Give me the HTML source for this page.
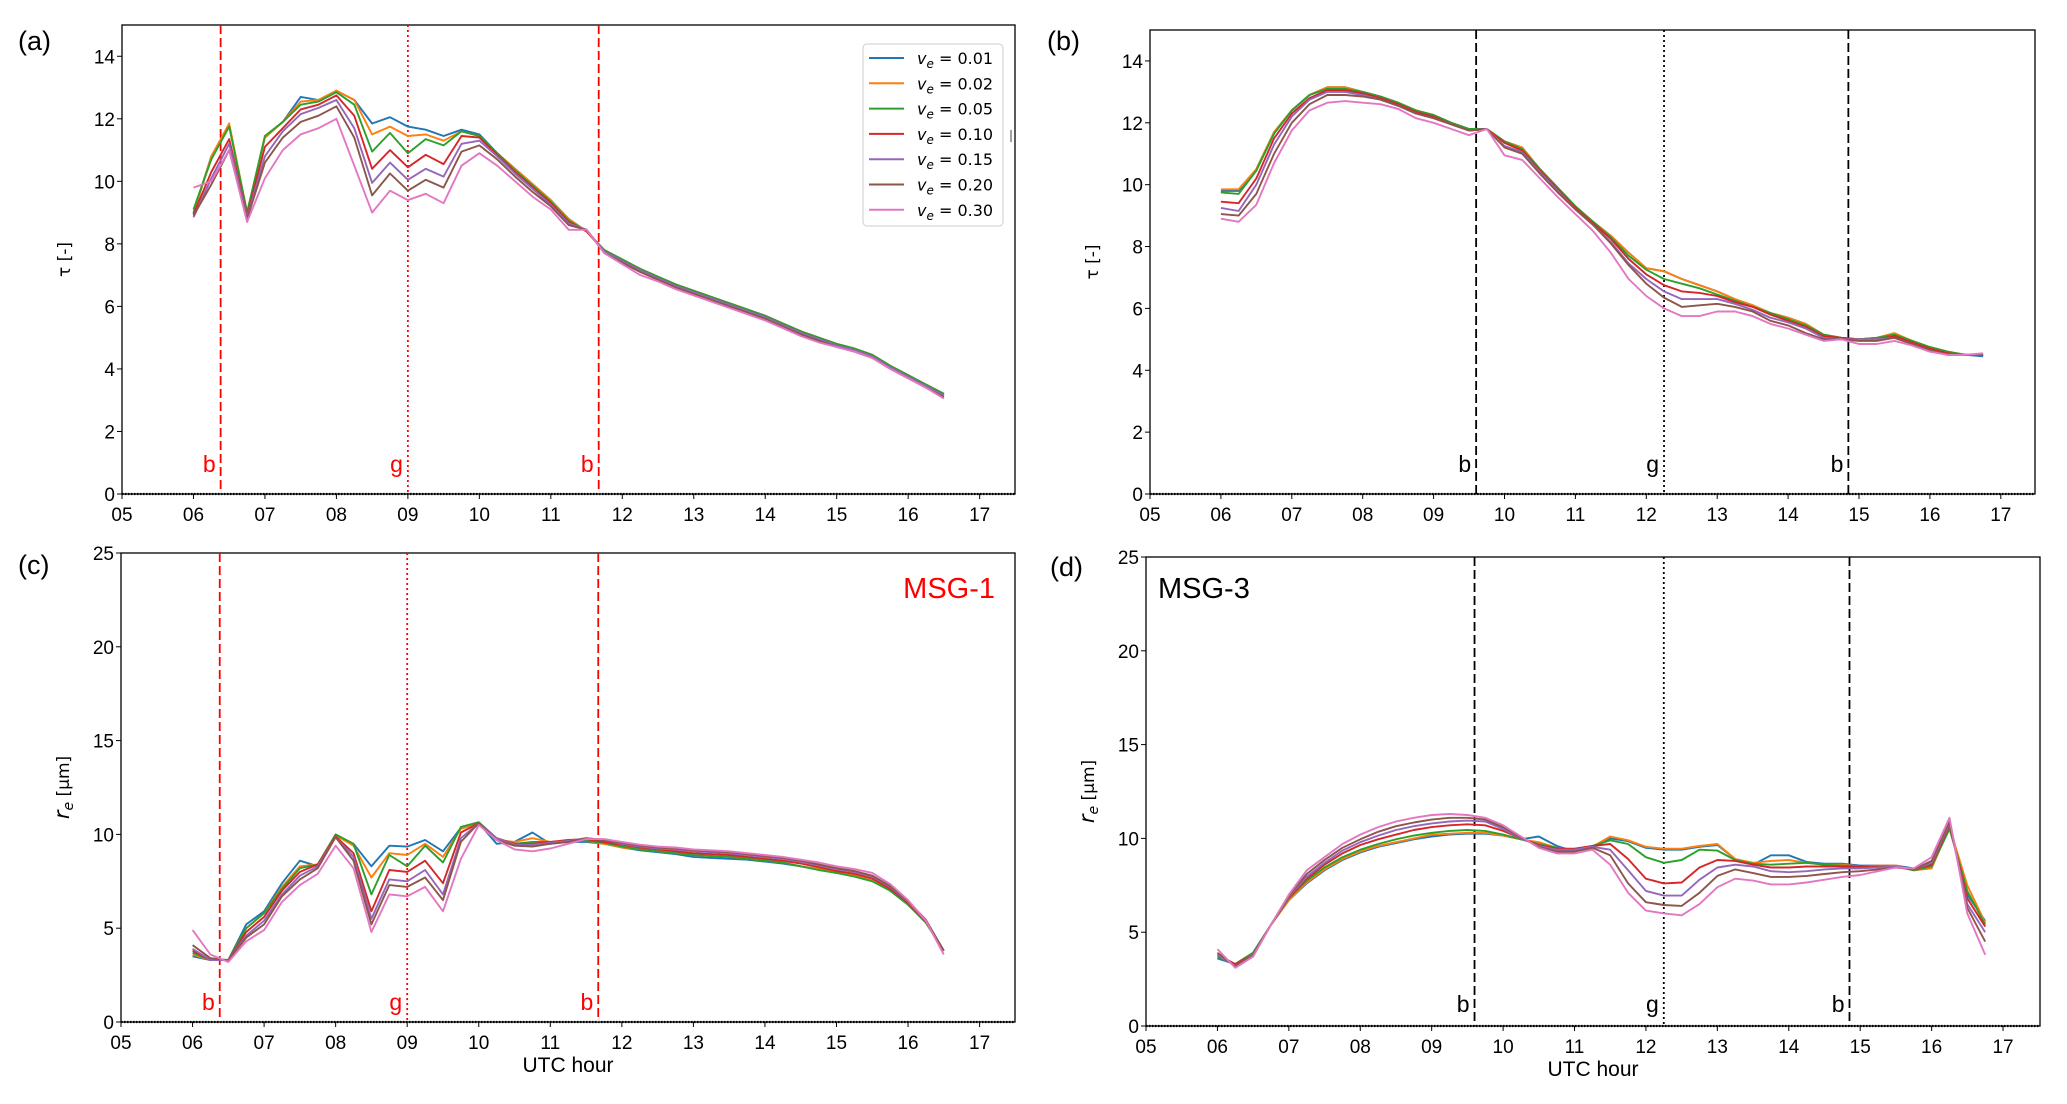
<!DOCTYPE html>
<html><head><meta charset="utf-8"><style>
body{margin:0;background:#fff;}
svg{display:block;}
.tk{font-family:"Liberation Sans Narrow","Liberation Sans",sans-serif;font-size:19px;fill:#000;}
.lab{font-family:"Liberation Sans Narrow","Liberation Sans",sans-serif;font-size:21px;fill:#000;}
.leg{font-family:"DejaVu Sans",sans-serif;font-size:16px;fill:#000;}
</style></head><body>
<svg id="fig" width="2067" height="1104" viewBox="0 0 2067 1104" xmlns="http://www.w3.org/2000/svg"></svg>
<script>
const labels=["0.01","0.02","0.05","0.10","0.15","0.20","0.30"];
const colors=["#1f77b4","#ff7f0e","#2ca02c","#d62728","#9467bd","#8c564b","#e377c2"];
const xTicks=["05","06","07","08","09","10","11","12","13","14","15","16","17"];
const tauTicks=[0,2,4,6,8,10,12,14];
const reTicks=[0,5,10,15,20,25];
const tStartA=6.0, tStartB=6.0, tStep=0.25;
// Panel (a) tau MSG-1 (6.00..16.50)
const tauA=[
[9.0,10.8,11.8,9.0,11.4,11.9,12.7,12.6,12.9,12.6,11.85,12.05,11.75,11.65,11.45,11.65,11.5,10.9,10.4,9.9,9.4,8.8,8.4,7.8,7.5,7.2,6.95,6.7,6.5,6.3,6.1,5.9,5.7,5.45,5.2,5.0,4.8,4.65,4.45,4.1,3.8,3.5,3.2],
[8.95,10.8,11.85,9.0,11.4,11.9,12.55,12.6,12.9,12.6,11.5,11.75,11.45,11.5,11.3,11.6,11.45,10.9,10.4,9.9,9.4,8.8,8.4,7.8,7.5,7.2,6.95,6.7,6.5,6.3,6.1,5.9,5.7,5.45,5.2,5.0,4.8,4.65,4.45,4.1,3.8,3.5,3.2],
[9.1,10.7,11.75,9.0,11.45,11.9,12.45,12.55,12.85,12.45,10.95,11.55,10.9,11.35,11.15,11.6,11.45,10.9,10.35,9.85,9.35,8.75,8.4,7.8,7.5,7.2,6.95,6.7,6.5,6.3,6.1,5.9,5.7,5.45,5.2,5.0,4.8,4.65,4.45,4.1,3.8,3.5,3.2],
[8.95,10.3,11.35,8.9,11.1,11.7,12.3,12.45,12.75,12.1,10.4,11.0,10.45,10.85,10.55,11.45,11.4,10.85,10.3,9.8,9.3,8.7,8.4,7.75,7.45,7.15,6.9,6.65,6.45,6.25,6.05,5.85,5.65,5.4,5.15,4.95,4.75,4.6,4.4,4.05,3.75,3.45,3.15],
[8.85,10.1,11.2,8.85,10.8,11.6,12.15,12.35,12.6,11.7,9.95,10.6,10.05,10.4,10.15,11.2,11.3,10.8,10.25,9.75,9.25,8.65,8.45,7.75,7.45,7.15,6.9,6.65,6.45,6.25,6.05,5.85,5.65,5.4,5.15,4.95,4.75,4.6,4.4,4.05,3.75,3.45,3.15],
[8.9,9.9,11.0,8.8,10.6,11.4,11.9,12.1,12.4,11.4,9.55,10.25,9.7,10.05,9.8,10.95,11.15,10.7,10.15,9.65,9.2,8.6,8.45,7.7,7.4,7.1,6.85,6.6,6.4,6.2,6.0,5.8,5.6,5.35,5.1,4.9,4.7,4.55,4.35,4.0,3.7,3.4,3.1],
[9.8,10.0,11.0,8.7,10.1,11.0,11.5,11.7,12.0,10.5,9.0,9.7,9.4,9.6,9.3,10.5,10.9,10.5,10.0,9.5,9.1,8.45,8.45,7.7,7.35,7.0,6.8,6.55,6.35,6.15,5.95,5.75,5.55,5.3,5.05,4.85,4.7,4.55,4.35,4.0,3.7,3.4,3.05]];
// Panel (b) tau MSG-3 (6.00..16.75)
const tauB=[
[9.8,9.8,10.5,11.7,12.4,12.9,13.15,13.15,13.0,12.85,12.65,12.4,12.25,12.0,11.8,11.8,11.4,11.2,10.5,9.9,9.3,8.8,8.35,7.8,7.3,7.2,6.95,6.75,6.55,6.3,6.1,5.85,5.7,5.5,5.15,5.05,5.0,5.05,5.15,4.95,4.75,4.6,4.5,4.45],
[9.85,9.85,10.5,11.7,12.4,12.9,13.15,13.15,13.0,12.85,12.65,12.4,12.25,12.0,11.8,11.8,11.4,11.2,10.5,9.9,9.3,8.8,8.35,7.8,7.3,7.2,6.95,6.75,6.55,6.3,6.1,5.85,5.7,5.5,5.15,5.05,5.0,5.05,5.2,4.95,4.75,4.6,4.5,4.5],
[9.75,9.7,10.45,11.65,12.4,12.9,13.1,13.1,13.0,12.85,12.65,12.4,12.25,12.0,11.8,11.8,11.4,11.15,10.5,9.9,9.3,8.8,8.3,7.7,7.25,6.95,6.8,6.65,6.45,6.25,6.05,5.85,5.65,5.45,5.15,5.05,5.0,5.05,5.15,4.95,4.75,4.6,4.5,4.5],
[9.45,9.4,10.2,11.5,12.3,12.8,13.05,13.05,12.95,12.8,12.6,12.35,12.2,11.95,11.75,11.8,11.35,11.1,10.45,9.85,9.25,8.75,8.25,7.6,7.1,6.75,6.55,6.5,6.4,6.2,6.05,5.8,5.6,5.4,5.1,5.05,5.0,5.0,5.1,4.9,4.7,4.55,4.5,4.5],
[9.25,9.15,10.0,11.3,12.2,12.75,13.0,13.0,12.9,12.75,12.55,12.3,12.15,11.95,11.75,11.8,11.25,11.05,10.4,9.8,9.2,8.7,8.15,7.45,6.95,6.55,6.3,6.3,6.3,6.15,5.95,5.7,5.55,5.35,5.05,5.0,5.0,5.0,5.05,4.85,4.65,4.5,4.5,4.5],
[9.05,9.0,9.7,11.0,12.0,12.6,12.9,12.9,12.85,12.75,12.55,12.3,12.15,11.95,11.75,11.8,11.2,11.0,10.35,9.75,9.2,8.7,8.1,7.4,6.8,6.35,6.05,6.1,6.15,6.05,5.9,5.6,5.45,5.2,5.0,5.0,4.95,4.95,5.05,4.85,4.65,4.5,4.5,4.5],
[8.9,8.8,9.35,10.7,11.75,12.4,12.65,12.7,12.65,12.6,12.45,12.15,12.0,11.8,11.6,11.8,10.95,10.8,10.2,9.6,9.05,8.5,7.8,6.95,6.4,6.0,5.75,5.75,5.9,5.9,5.75,5.5,5.35,5.15,4.95,5.0,4.85,4.85,4.95,4.8,4.6,4.5,4.5,4.55]];
// Panel (c) re MSG-1 (6.00..16.50)
const reC=[
[3.5,3.3,3.3,5.2,5.9,7.4,8.6,8.3,9.95,9.5,8.3,9.4,9.35,9.7,9.1,10.35,10.6,9.5,9.6,10.1,9.5,9.6,9.6,9.5,9.3,9.15,9.05,8.95,8.8,8.75,8.7,8.65,8.55,8.45,8.3,8.15,7.95,7.8,7.55,7.0,6.3,5.3,3.8],
[3.6,3.3,3.3,5.0,5.8,7.2,8.3,8.4,9.95,9.4,7.7,9.0,8.9,9.5,8.8,10.3,10.6,9.7,9.6,9.8,9.6,9.65,9.65,9.5,9.3,9.2,9.1,9.0,8.9,8.85,8.8,8.7,8.6,8.5,8.3,8.15,8.0,7.85,7.6,7.05,6.3,5.3,3.8],
[3.7,3.3,3.3,5.0,5.8,7.1,8.2,8.4,10.0,9.5,6.8,8.9,8.3,9.4,8.5,10.4,10.65,9.8,9.5,9.6,9.6,9.65,9.65,9.55,9.35,9.2,9.1,9.0,8.9,8.85,8.8,8.7,8.6,8.5,8.3,8.1,7.95,7.75,7.5,7.0,6.25,5.3,3.8],
[3.8,3.3,3.3,4.8,5.6,7.0,8.0,8.4,9.9,9.0,5.9,8.1,8.0,8.6,7.4,10.1,10.6,9.8,9.5,9.5,9.6,9.7,9.75,9.6,9.45,9.3,9.2,9.1,9.0,8.95,8.9,8.8,8.7,8.6,8.45,8.25,8.05,7.9,7.65,7.1,6.35,5.35,3.8],
[3.9,3.3,3.3,4.6,5.4,6.8,7.8,8.3,9.85,8.8,5.5,7.6,7.5,8.1,6.8,9.8,10.6,9.8,9.45,9.45,9.55,9.65,9.8,9.7,9.5,9.35,9.25,9.2,9.1,9.05,9.0,8.9,8.8,8.7,8.55,8.35,8.15,8.0,7.75,7.2,6.4,5.4,3.8],
[4.1,3.4,3.3,4.5,5.2,6.7,7.6,8.2,9.85,8.6,5.2,7.3,7.2,7.7,6.5,9.6,10.6,9.7,9.4,9.35,9.5,9.6,9.8,9.7,9.55,9.4,9.3,9.25,9.15,9.1,9.05,8.95,8.85,8.75,8.6,8.4,8.2,8.05,7.8,7.25,6.45,5.45,3.8],
[4.9,3.6,3.2,4.3,4.9,6.4,7.3,7.9,9.4,8.2,4.8,6.8,6.7,7.2,5.9,8.7,10.5,9.7,9.2,9.1,9.25,9.5,9.75,9.75,9.6,9.45,9.35,9.3,9.2,9.15,9.1,9.0,8.9,8.8,8.65,8.5,8.3,8.15,7.95,7.35,6.5,5.4,3.6]];
// Panel (d) re MSG-3 (6.00..16.75)
const reD=[
[3.6,3.3,3.9,5.4,6.7,7.6,8.3,8.85,9.25,9.55,9.75,9.95,10.1,10.2,10.25,10.25,10.15,9.95,10.1,9.6,9.3,9.5,10.0,9.85,9.5,9.4,9.4,9.55,9.65,8.9,8.6,9.1,9.1,8.75,8.65,8.65,8.55,8.55,8.55,8.4,8.6,10.8,7.0,5.6],
[3.7,3.3,3.9,5.4,6.7,7.65,8.35,8.9,9.3,9.6,9.8,10.0,10.2,10.25,10.3,10.3,10.15,9.95,9.8,9.5,9.35,9.55,10.1,9.9,9.55,9.45,9.45,9.6,9.7,8.9,8.7,8.8,8.85,8.7,8.6,8.6,8.5,8.55,8.55,8.3,8.4,10.6,7.5,5.5],
[3.7,3.3,3.9,5.4,6.8,7.75,8.45,9.0,9.4,9.7,9.95,10.15,10.3,10.4,10.45,10.4,10.2,9.95,9.7,9.5,9.4,9.6,9.9,9.7,9.0,8.7,8.85,9.4,9.35,8.85,8.65,8.6,8.65,8.7,8.6,8.55,8.5,8.5,8.5,8.3,8.5,10.5,7.2,5.4],
[3.8,3.3,3.8,5.4,6.85,7.85,8.6,9.2,9.65,9.95,10.2,10.45,10.6,10.7,10.75,10.7,10.4,10.0,9.65,9.45,9.45,9.6,9.7,8.9,7.85,7.6,7.65,8.45,8.85,8.8,8.6,8.45,8.45,8.5,8.5,8.5,8.5,8.5,8.5,8.35,8.6,10.7,6.8,5.3],
[3.8,3.2,3.8,5.4,6.9,7.95,8.7,9.35,9.8,10.15,10.45,10.65,10.8,10.9,10.95,10.9,10.5,10.0,9.6,9.4,9.4,9.55,9.4,8.3,7.2,6.95,6.95,7.8,8.45,8.6,8.5,8.25,8.2,8.25,8.35,8.4,8.4,8.45,8.5,8.35,8.7,10.8,6.5,5.0],
[3.9,3.2,3.75,5.4,6.95,8.1,8.85,9.5,9.95,10.35,10.65,10.85,11.0,11.1,11.1,11.0,10.6,10.05,9.55,9.3,9.3,9.5,9.1,7.6,6.6,6.45,6.4,7.1,8.0,8.35,8.15,7.95,7.95,8.0,8.1,8.2,8.25,8.35,8.45,8.35,8.8,10.9,6.3,4.5],
[4.1,3.1,3.7,5.4,7.0,8.3,9.0,9.7,10.2,10.6,10.9,11.1,11.25,11.3,11.25,11.1,10.7,10.1,9.5,9.2,9.2,9.4,8.6,7.1,6.15,6.0,5.9,6.5,7.4,7.85,7.75,7.55,7.55,7.65,7.8,7.95,8.05,8.25,8.45,8.4,9.0,11.1,6.0,3.8]];
const vlinesAC=[6.38,9.0,11.67];
const vlinesBD=[9.6,12.25,14.85];

const NS="http://www.w3.org/2000/svg";
const svg=document.getElementById('fig');
function mk(tag,attrs,parent){const e=document.createElementNS(NS,tag);for(const k in attrs)e.setAttribute(k,attrs[k]);(parent||svg).appendChild(e);return e;}

const panels=[
 {id:'a',x0:122,ppH:71.47,right:1015,y0:494,top:25,ymax:15,ticks:tauTicks,data:tauA,t0:tStartA,vl:vlinesAC,vc:'#ff0000',ylab:'tau',letter:'(a)',lx:18,ly:50,lblY:472,xlab:false},
 {id:'b',x0:1150,ppH:70.9,right:2035,y0:494,top:30,ymax:15,ticks:tauTicks,data:tauB,t0:tStartB,vl:vlinesBD,vc:'#000',ylab:'tau',letter:'(b)',lx:1047,ly:50,lblY:472,xlab:false},
 {id:'c',x0:121,ppH:71.55,right:1015,y0:1022,top:553,ymax:25,ticks:reTicks,data:reC,t0:tStartA,vl:vlinesAC,vc:'#ff0000',ylab:'re',letter:'(c)',lx:18,ly:574,lblY:1010,xlab:true},
 {id:'d',x0:1146,ppH:71.42,right:2040,y0:1026,top:557,ymax:25,ticks:reTicks,data:reD,t0:tStartB,vl:vlinesBD,vc:'#000',ylab:'re',letter:'(d)',lx:1050,ly:576,lblY:1012,xlab:true}
];
const vlineNames=['b-line-left','g-line','b-line-right'];
const vlineTxt=['b','g','b'];

panels.forEach(p=>{
  const g=mk('g',{});
  
  
  const X=h=>p.x0+(h-5)*p.ppH;
  const Y=v=>p.y0-(v/p.ymax)*(p.y0-p.top);
  // frame
  const fr=mk('rect',{x:p.x0,y:p.top,width:p.right-p.x0,height:p.y0-p.top,fill:'none',stroke:'#000','stroke-width':1.3},g);
  
  
  const z=mk('line',{x1:p.x0,x2:p.right,y1:p.y0,y2:p.y0,stroke:'#000','stroke-width':2.2,'stroke-dasharray':'1.5 1.5'},g);
  
  
  // x ticks
  xTicks.forEach((t,i)=>{
    const x=X(5+i);
    mk('line',{x1:x,x2:x,y1:p.y0,y2:p.y0+5,stroke:'#000','stroke-width':1},g);
    const tx=mk('text',{x:x,y:p.y0+27,'text-anchor':'middle',class:'tk'},g);
    tx.textContent=t;
    
    
  });
  p.ticks.forEach(v=>{
    const y=Y(v);
    mk('line',{x1:p.x0-5,x2:p.x0,y1:y,y2:y,stroke:'#000','stroke-width':1},g);
    const tx=mk('text',{x:p.x0-7,y:y+7,'text-anchor':'end',class:'tk'},g);
    tx.textContent=v;
    
    
  });
  // vertical lines
  p.vl.forEach((h,i)=>{
    const x=X(h);
    const ln=mk('line',{x1:x,x2:x,y1:p.top,y2:p.y0,stroke:p.vc,'stroke-width':1.8,'stroke-dasharray':i==1?'2 3':'9 4'},g);
    
    
    const tx=mk('text',{x:x-5,y:p.lblY,'text-anchor':'end',class:'lab',fill:p.vc,style:'font-size:23px;fill:'+p.vc},g);
    tx.textContent=vlineTxt[i];
    
    
  });
  // series
  p.data.forEach((s,k)=>{
    const pts=s.map((v,i)=>X(p.t0+i*tStep).toFixed(1)+','+Y(v).toFixed(1)).join(' ');
    const pl=mk('polyline',{points:pts,fill:'none',stroke:colors[k],'stroke-width':1.9,'stroke-linejoin':'round'},g);
    
    
  });
  // y label
  const cy=(p.top+p.y0)/2, lxp=p.x0-52;
  const yl=mk('text',{x:lxp,y:cy,'text-anchor':'middle',transform:'rotate(-90 '+lxp+' '+cy+')',class:'lab',style:'font-family:"DejaVu Sans",sans-serif;font-size:17px'},g);
  
  
  if(p.ylab==='tau'){yl.textContent='τ [-]';}
  else{
    const a=mk('tspan',{'font-style':'italic','font-size':'21px'},yl);a.textContent='r';
    const b=mk('tspan',{'font-style':'italic','font-size':'14px',dy:4},yl);b.textContent='e';
    const c=mk('tspan',{dy:-4},yl);c.textContent=' [µm]';
  }
  if(p.xlab){
    const xl=mk('text',{x:(p.x0+p.right)/2,y:p.y0+50,'text-anchor':'middle',class:'lab'},g);
    xl.textContent='UTC hour';
    
    
  }
  const le=mk('text',{x:p.lx,y:p.ly,class:'lab',style:'font-size:27px'},g);
  le.textContent=p.letter;
  
  
});
// MSG labels
const m1=mk('text',{x:995,y:598,'text-anchor':'end',class:'lab',style:'font-size:29px;fill:#ff0000'});
m1.textContent='MSG-1';


const m3=mk('text',{x:1158,y:598,class:'lab',style:'font-size:29px'});
m3.textContent='MSG-3';


// legend
const lg=mk('g',{});


mk('rect',{x:863,y:44,width:140,height:182,rx:4,fill:'#fff',stroke:'#ccc','stroke-width':1},lg);
labels.forEach((l,k)=>{
  const y=58+k*25.3;
  const ln=mk('line',{x1:869,x2:904,y1:y,y2:y,stroke:colors[k],'stroke-width':2},lg);
  
  
  const t=mk('text',{x:917,y:y+6,class:'leg'},lg);
  
  
  const a=mk('tspan',{'font-style':'italic'},t);a.textContent='v';
  const b=mk('tspan',{'font-style':'italic','font-size':'12px',dy:4},t);b.textContent='e';
  const c=mk('tspan',{dy:-4},t);c.textContent=' = '+l;
});
mk('line',{x1:1011,x2:1011,y1:130,y2:142,stroke:'#444','stroke-width':1});
</script>
</body></html>
